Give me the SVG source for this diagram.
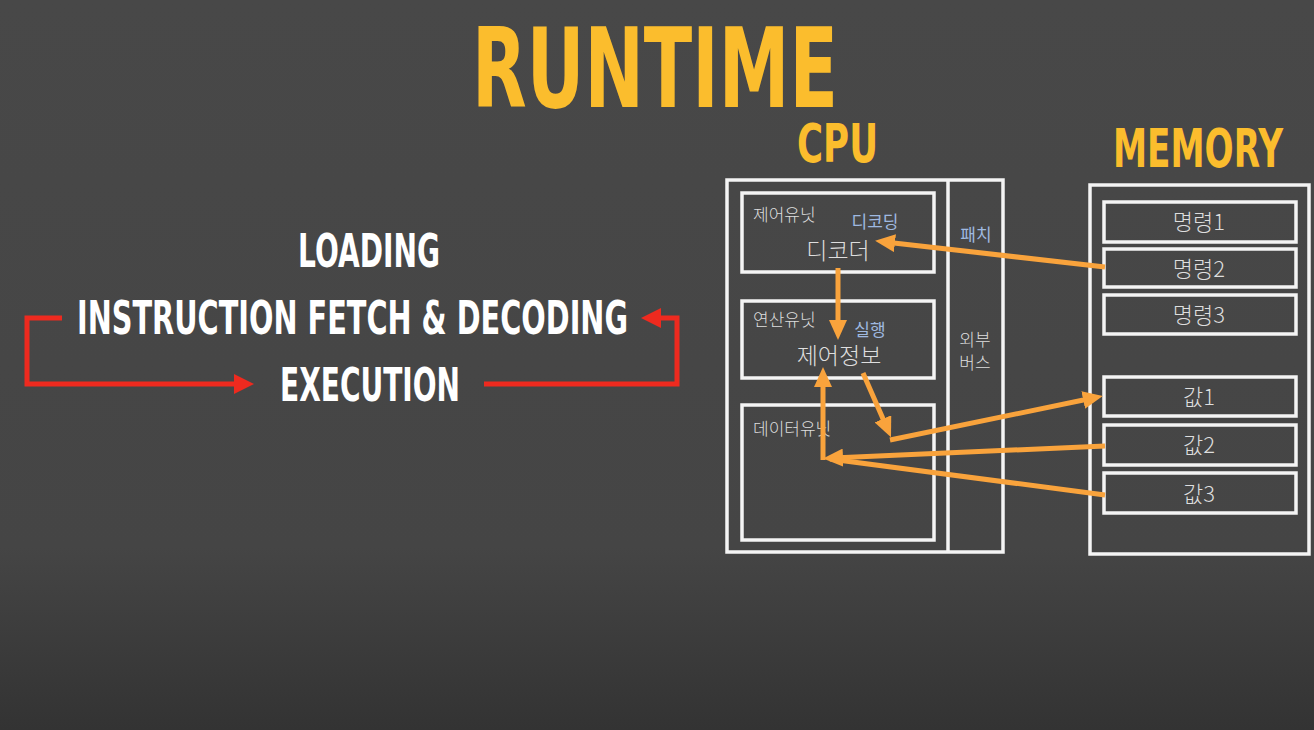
<svg xmlns="http://www.w3.org/2000/svg" width="1314" height="730" viewBox="0 0 1314 730">
<defs>
<linearGradient id="bg" x1="0" y1="0" x2="0" y2="1">
<stop offset="0" stop-color="#484848"/>
<stop offset="0.75" stop-color="#454545"/>
<stop offset="1" stop-color="#333333"/>
</linearGradient>
<marker id="ao" markerUnits="userSpaceOnUse" markerWidth="20" markerHeight="18" refX="10" refY="9" orient="auto">
<path d="M0,0 L20,9 L0,18 z" fill="#f9a33c"/>
</marker>
<marker id="ar" markerUnits="userSpaceOnUse" markerWidth="20" markerHeight="20" refX="10" refY="10" orient="auto">
<path d="M0,0 L20,10 L0,20 z" fill="#ee2a1f"/>
</marker>
<style>
.box{fill:none;stroke:#f4f4f4;stroke-width:3.5}
.title{font-family:"DejaVu Sans","Liberation Sans",sans-serif;font-weight:bold;fill:#fbbd2d}
.step{font-family:"DejaVu Sans","Liberation Sans",sans-serif;font-weight:bold;fill:#ffffff}
.ko{font-family:"Noto Sans CJK KR",sans-serif;font-weight:300;fill:#dedede}
.kob{font-family:"Noto Sans CJK KR",sans-serif;font-weight:normal;fill:#9fb9e0}
.ow{fill:none;stroke:#f9a33c;stroke-width:5}
.rd{fill:none;stroke:#ee2a1f;stroke-width:5}
</style>
</defs>
<rect x="0" y="0" width="1314" height="730" fill="url(#bg)"/>

<g id="titles">
<text class="title" x="472" y="107" font-size="110" textLength="366" lengthAdjust="spacingAndGlyphs">RUNTIME</text>
<text class="title" x="797" y="162" font-size="54" textLength="81" lengthAdjust="spacingAndGlyphs">CPU</text>
<text class="title" x="1113" y="167" font-size="54" textLength="170" lengthAdjust="spacingAndGlyphs">MEMORY</text>
</g>

<g id="steps">
<text class="step" x="298" y="267" font-size="46" textLength="142" lengthAdjust="spacingAndGlyphs">LOADING</text>
<text class="step" x="77" y="334" font-size="46" textLength="551" lengthAdjust="spacingAndGlyphs">INSTRUCTION FETCH &amp; DECODING</text>
<text class="step" x="280" y="401" font-size="46" textLength="180" lengthAdjust="spacingAndGlyphs">EXECUTION</text>
</g>

<g id="cpu">
<rect class="box" x="727" y="180" width="276" height="372"/>
<line class="box" x1="948" y1="180" x2="948" y2="552"/>
<text class="kob" x="976" y="241" font-size="17" text-anchor="middle">패치</text>
<text class="ko" x="975" y="346" font-size="17" text-anchor="middle">외부</text>
<text class="ko" x="975" y="369" font-size="17" text-anchor="middle">버스</text>
</g>

<g id="control-unit">
<rect class="box" x="742" y="193" width="192" height="79"/>
<text class="ko" x="753" y="221" font-size="17">제어유닛</text>
<text class="kob" x="875" y="228" font-size="17" text-anchor="middle">디코딩</text>
<text class="ko" x="838" y="259" font-size="23" text-anchor="middle" fill="#f2f2f2">디코더</text>
</g>

<g id="alu">
<rect class="box" x="742" y="301" width="192" height="77"/>
<text class="ko" x="753" y="326" font-size="17">연산유닛</text>
<text class="kob" x="870" y="336" font-size="17" text-anchor="middle">실행</text>
<text class="ko" x="839" y="364" font-size="23" text-anchor="middle" fill="#f2f2f2">제어정보</text>
</g>

<g id="data-unit">
<rect class="box" x="742" y="405" width="192" height="135"/>
<text class="ko" x="753" y="435" font-size="17">데이터유닛</text>
</g>

<g id="memory">
<rect class="box" x="1090" y="185" width="219" height="369"/>
</g>
<g id="mem-inst1"><rect class="box" x="1104" y="202" width="192" height="40"/><text class="ko" x="1199" y="230" font-size="22" text-anchor="middle">명령1</text></g>
<g id="mem-inst2"><rect class="box" x="1104" y="249" width="192" height="38"/><text class="ko" x="1199" y="277" font-size="22" text-anchor="middle">명령2</text></g>
<g id="mem-inst3"><rect class="box" x="1104" y="295" width="192" height="39"/><text class="ko" x="1199" y="323" font-size="22" text-anchor="middle">명령3</text></g>
<g id="mem-val1"><rect class="box" x="1104" y="377" width="192" height="39"/><text class="ko" x="1199" y="405" font-size="22" text-anchor="middle">값1</text></g>
<g id="mem-val2"><rect class="box" x="1104" y="425" width="192" height="40"/><text class="ko" x="1199" y="453" font-size="22" text-anchor="middle">값2</text></g>
<g id="mem-val3"><rect class="box" x="1104" y="473" width="192" height="40"/><text class="ko" x="1199" y="502" font-size="22" text-anchor="middle">값3</text></g>

<g id="connectors">
<path class="rd" d="M62,318 H27 V384 H244" marker-end="url(#ar)"/>
<path class="rd" d="M484,384 H677 V318 H651" marker-end="url(#ar)"/>
<line class="ow" x1="1105" y1="267" x2="885" y2="242" marker-end="url(#ao)"/>
<line class="ow" x1="838" y1="268" x2="838" y2="330" marker-end="url(#ao)"/>
<line class="ow" x1="863" y1="373" x2="887" y2="428" marker-end="url(#ao)"/>
<line class="ow" x1="890" y1="440" x2="1093" y2="398" marker-end="url(#ao)"/>
<line class="ow" x1="1105" y1="446" x2="833" y2="458" marker-end="url(#ao)"/>
<line class="ow" x1="1105" y1="495" x2="830" y2="459"/>
<line class="ow" x1="823" y1="460" x2="823" y2="377" marker-end="url(#ao)"/>
</g>
</svg>
